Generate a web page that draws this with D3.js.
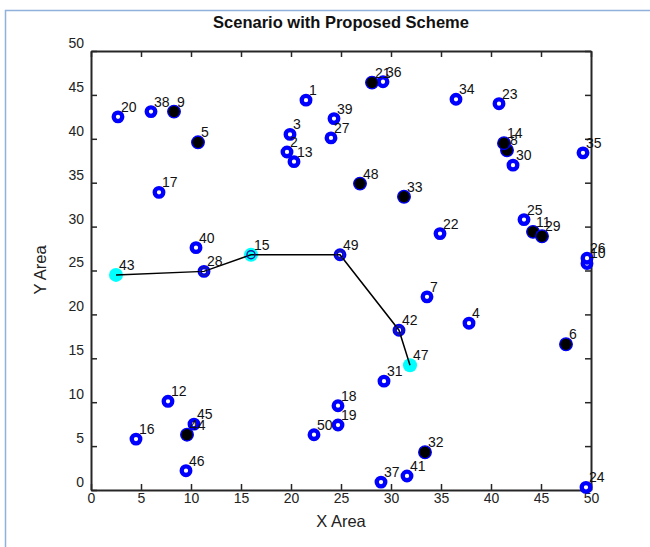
<!DOCTYPE html>
<html lang="en">
<head>
<meta charset="utf-8"/>
<script src="https://d3js.org/d3.v7.min.js"></script>
<style>
  body { margin: 0; background: #fff; }
  text { font-family: "Liberation Sans", Arial, sans-serif; }
</style>
</head>
<body>
<script>
    // node ids and positions
    var nodeIds = [1, 2, 3, 4, 5, 6, 7, 8, 9, 10,
                   11, 12, 13, 14, 15, 16, 17, 18, 19, 20,
                   21, 22, 23, 24, 25, 26, 27, 28, 29, 30,
                   31, 32, 33, 34, 35, 36, 37, 38, 39, 40,
                   41, 42, 43, 44, 45, 46, 47, 48, 49, 50];
    var nodeX = [21.5, 19.6, 19.9, 37.8, 10.7, 47.5, 33.6, 41.6, 8.3, 49.6,
                 44.2, 7.7, 20.3, 41.3, 16.0, 4.5, 6.8, 24.7, 24.7, 2.7,
                 28.1, 34.9, 40.8, 49.5, 43.3, 49.6, 24.0, 11.3, 45.1, 42.2,
                 29.3, 33.4, 31.3, 36.5, 49.2, 29.2, 29.0, 6.0, 24.3, 10.5,
                 31.6, 30.8, 2.5, 9.6, 10.3, 9.5, 31.9, 26.9, 24.9, 22.3];
    var nodeY = [44.4, 38.5, 40.5, 19.0, 39.6, 16.6, 22.0, 38.7, 43.1, 25.8,
                 29.4, 10.1, 37.4, 39.5, 26.8, 5.8, 33.9, 9.6, 7.4, 42.5,
                 46.4, 29.2, 44.0, 0.3, 30.8, 26.4, 40.1, 24.9, 28.9, 37.0,
                 12.4, 4.3, 33.4, 44.5, 38.4, 46.5, 0.9, 43.1, 42.3, 27.6,
                 1.6, 18.2, 24.5, 6.3, 7.5, 2.2, 14.2, 34.9, 26.8, 6.3];

    // cluster heads (black), source/sink/relay (cyan), and the chosen route
    var headNodes = [5, 6, 8, 9, 11, 14, 21, 29, 32, 33, 44, 48];
    var cyanNodes = [43, 15, 47];
    var routeNodes = [43, 28, 15, 49, 42, 47];

    var xTicks = [0, 5, 10, 15, 20, 25, 30, 35, 40, 45, 50];
    var yTicks = [0, 5, 10, 15, 20, 25, 30, 35, 40, 45, 50];

    var W = 650, H = 547;
    var svg = d3.select("body").append("svg")
        .attr("width", W)
        .attr("height", H);

    // figure frame
    svg.append("rect")
        .attr("x", 5.5).attr("y", 10.5)
        .attr("width", 700).attr("height", 600)
        .attr("fill", "none")
        .attr("stroke", "#8fb1da")
        .attr("stroke-width", 1.5);

    var x = d3.scaleLinear().domain([0, 50]).range([91, 591]);
    var y = d3.scaleLinear().domain([0, 50]).range([490, 51]);

    var nodes = nodeIds.map(function(id, i) {
        return {id: id, x: nodeX[i], y: nodeY[i]};
    });
    function byId(id) { return nodes[nodeIds.indexOf(id)]; }

    var axisColor = "#262626";
    function styleAxis(g) {
        g.attr("font-family", "Liberation Sans, Arial, sans-serif")
         .attr("font-size", 14);
        g.selectAll("path.domain").attr("stroke", axisColor).attr("stroke-width", 2);
        g.selectAll(".tick line").attr("stroke", axisColor).attr("stroke-width", 1.5);
        g.selectAll(".tick text").attr("fill", "#222");
    }

    svg.append("g")
        .attr("transform", "translate(0,490)")
        .call(d3.axisBottom(x).tickValues(xTicks).tickSizeInner(-6).tickSizeOuter(0).tickPadding(3))
        .call(styleAxis);
    svg.append("g")
        .attr("transform", "translate(0,51)")
        .call(d3.axisTop(x).tickValues(xTicks).tickSizeInner(-6).tickSizeOuter(0).tickFormat(""))
        .call(styleAxis);
    var yAxis = svg.append("g")
        .attr("transform", "translate(91,0)")
        .call(d3.axisLeft(y).tickValues(yTicks).tickSizeInner(-6).tickSizeOuter(0).tickPadding(7))
        .call(styleAxis);
    yAxis.selectAll(".tick text").attr("transform", "translate(0,-8)");
    svg.append("g")
        .attr("transform", "translate(591,0)")
        .call(d3.axisRight(y).tickValues(yTicks).tickSizeInner(-6).tickSizeOuter(0).tickFormat(""))
        .call(styleAxis);

    // plain sensor nodes: blue rings
    svg.selectAll("circle.ring")
        .data(nodes.filter(function(d) {
            return headNodes.indexOf(d.id) < 0 && cyanNodes.indexOf(d.id) < 0;
        }))
        .enter().append("circle")
        .attr("class", "ring")
        .attr("cx", function(d) { return x(d.x); })
        .attr("cy", function(d) { return y(d.y); })
        .attr("r", 4.3)
        .attr("fill", "#fff")
        .attr("stroke", "#0000ff")
        .attr("stroke-width", 4.3);

    // cluster heads
    svg.selectAll("circle.head")
        .data(nodes.filter(function(d) { return headNodes.indexOf(d.id) >= 0; }))
        .enter().append("circle")
        .attr("class", "head")
        .attr("cx", function(d) { return x(d.x); })
        .attr("cy", function(d) { return y(d.y); })
        .attr("r", 6.3)
        .attr("fill", "#000")
        .attr("stroke", "#0000ff")
        .attr("stroke-width", 1.3);

    // cyan nodes
    svg.selectAll("circle.cyan")
        .data(cyanNodes.map(byId))
        .enter().append("circle")
        .attr("class", "cyan")
        .attr("cx", function(d) { return x(d.x); })
        .attr("cy", function(d) { return y(d.y); })
        .attr("r", 7)
        .attr("fill", "#00ffff");

    // route line
    var line = d3.line()
        .x(function(d) { return x(d.x); })
        .y(function(d) { return y(d.y); });
    svg.append("path")
        .datum(routeNodes.map(byId))
        .attr("d", line)
        .attr("fill", "none")
        .attr("stroke", "#000")
        .attr("stroke-width", 1.5);

    // route markers on intermediate hops
    svg.selectAll("circle.hop")
        .data(routeNodes.slice(1, -1).map(byId))
        .enter().append("circle")
        .attr("class", "hop")
        .attr("cx", function(d) { return x(d.x); })
        .attr("cy", function(d) { return y(d.y); })
        .attr("r", 4)
        .attr("fill", "none")
        .attr("stroke", "#1a1a99")
        .attr("stroke-width", 1.4);

    // node labels
    svg.selectAll("text.lbl")
        .data(nodes)
        .enter().append("text")
        .attr("class", "lbl")
        .attr("x", function(d) { return x(d.x) + 3; })
        .attr("y", function(d) { return y(d.y) - 5; })
        .attr("font-size", 14)
        .attr("fill", "#111")
        .text(function(d) { return d.id; });

    // titles
    svg.append("text")
        .attr("x", 341).attr("y", 28)
        .attr("text-anchor", "middle")
        .attr("font-size", 16.5).attr("font-weight", "bold")
        .attr("fill", "#111")
        .text("Scenario with Proposed Scheme");
    svg.append("text")
        .attr("x", 341).attr("y", 527)
        .attr("text-anchor", "middle")
        .attr("font-size", 16.5)
        .attr("fill", "#222")
        .text("X Area");
    svg.append("text")
        .attr("transform", "translate(46,270) rotate(-90)")
        .attr("text-anchor", "middle")
        .attr("font-size", 16.5)
        .attr("fill", "#222")
        .text("Y Area");
</script>
</body>
</html>
